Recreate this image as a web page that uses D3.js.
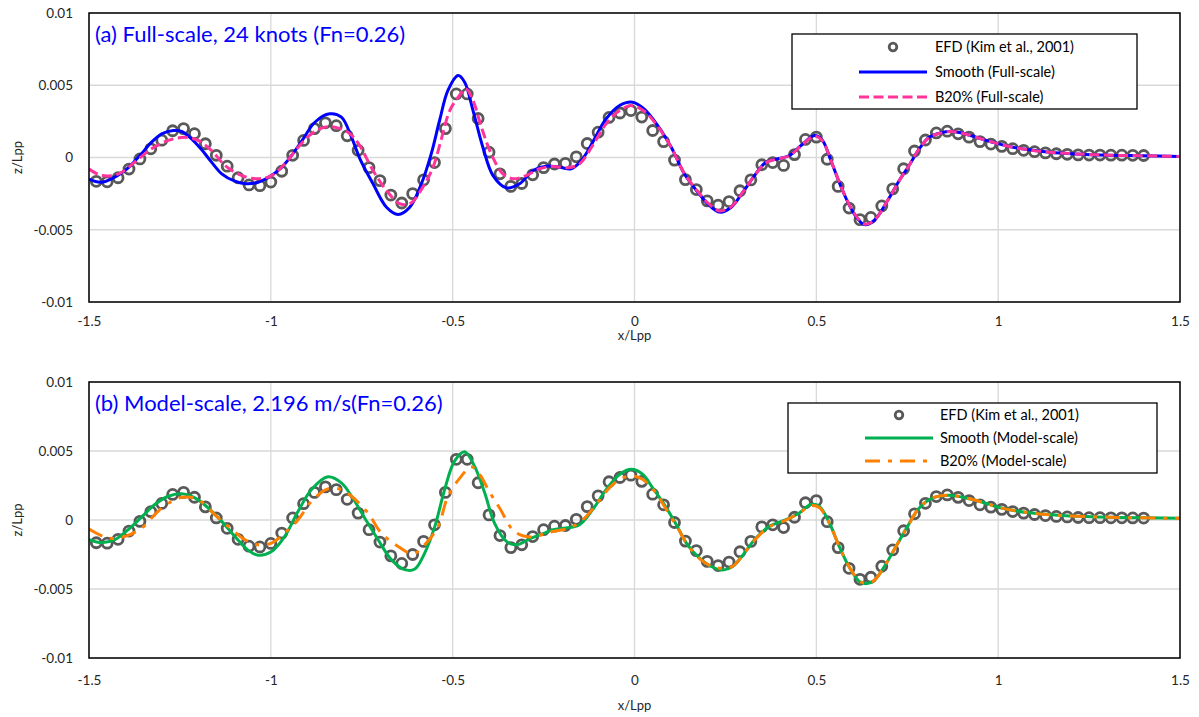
<!DOCTYPE html>
<html>
<head>
<meta charset="utf-8">
<script src="https://cdn.jsdelivr.net/npm/d3@7"></script>
<style>
  html, body { margin: 0; padding: 0; background: #fff; }
  svg { display: block; font-family: Lato, "Open Sans", "Noto Sans", sans-serif; }
</style>
</head>
<body>
<svg id="chart" width="1199" height="717"></svg>
<script>
// ---- axis ticks ----
const xTickValues = [-1.5, -1, -0.5, 0, 0.5, 1, 1.5];
const xTickLabels = ["-1.5", "-1", "-0.5", "0", "0.5", "1", "1.5"];
const yTickValues = [-0.01, -0.005, 0, 0.005, 0.01];
const yTickLabels = ["-0.01", "-0.005", "0", "0.005", "0.01"];

// ---- measured wave cut (Kim et al., 2001), x/Lpp ----
const efdX = [
  -1.48, -1.45, -1.42, -1.39, -1.36, -1.33, -1.30, -1.27, -1.24, -1.21,
  -1.18, -1.15, -1.12, -1.09, -1.06, -1.03, -1.00, -0.97, -0.94, -0.91,
  -0.88, -0.85, -0.82, -0.79, -0.76, -0.73, -0.70, -0.67, -0.64, -0.61,
  -0.58, -0.55, -0.52, -0.49, -0.46, -0.43, -0.40, -0.37, -0.34, -0.31,
  -0.28, -0.25, -0.22, -0.19, -0.16, -0.13, -0.10, -0.07, -0.04, -0.01,
   0.02,  0.05,  0.08,  0.11,  0.14,  0.17,  0.20,  0.23,  0.26,  0.29,
   0.32,  0.35,  0.38,  0.41,  0.44,  0.47,  0.50,  0.53,  0.56,  0.59,
   0.62,  0.65,  0.68,  0.71,  0.74,  0.77,  0.80,  0.83,  0.86,  0.89,
   0.92,  0.95,  0.98,  1.01,  1.04,  1.07,  1.10,  1.13,  1.16,  1.19,
   1.22,  1.25,  1.28,  1.31,  1.34,  1.37,  1.40
];
// z/Lpp
const efdZ = [
  -0.00165, -0.00168, -0.00140, -0.00080, -0.00010, 0.00060, 0.00120, 0.00185, 0.00200, 0.00165,
   0.00095,  0.00015, -0.00060, -0.00140, -0.00190, -0.00195, -0.00170, -0.00095, 0.00015, 0.00118,
   0.00200,  0.00240,  0.00220,  0.00150,  0.00050, -0.00070, -0.00160, -0.00260, -0.00315, -0.00250,
  -0.00155, -0.00035,  0.00200,  0.00440,  0.00440,  0.00270,  0.00037, -0.00113, -0.00200, -0.00180,
  -0.00120, -0.00070, -0.00045, -0.00040,  0.00005,  0.00097,  0.00175,  0.00277,  0.00308,  0.00325,
   0.00280,  0.00187,  0.00110, -0.00018, -0.00153, -0.00222, -0.00300, -0.00330, -0.00305, -0.00230,
  -0.00155, -0.00050, -0.00035, -0.00055,  0.00020,  0.00125,  0.00141, -0.00012, -0.00200, -0.00350,
  -0.00430, -0.00415, -0.00335, -0.00217, -0.00078,  0.00045,  0.00121,  0.00170,  0.00182,  0.00164,
   0.00141,  0.00110,  0.00093,  0.00077,  0.00061,  0.00050,  0.00040,  0.00032,  0.00026,  0.00022,
   0.00018,  0.00017,  0.00017,  0.00016,  0.00016,  0.00015,  0.00014
];

// ---- computed wave cuts, pairs of [x/Lpp, z/Lpp] ----
const smoothFull = [
  [-1.5,-0.00150],[-1.465,-0.00171],[-1.401,-0.00090],[-1.36,0.00014],[-1.328,0.00106],[-1.3,0.00164],
  [-1.268,0.00187],[-1.245,0.00180],[-1.218,0.00129],[-1.19,0.00053],[-1.163,-0.00032],[-1.135,-0.00113],
  [-1.099,-0.00164],[-1.067,-0.00182],[-1.035,-0.00171],[-1.003,-0.00131],[-0.971,-0.00071],[-0.943,0.00014],
  [-0.911,0.00129],[-0.879,0.00244],[-0.838,0.00302],[-0.806,0.00279],[-0.778,0.00140],[-0.755,-0.00009],
  [-0.719,-0.00182],[-0.682,-0.00344],[-0.65,-0.00394],[-0.618,-0.00344],[-0.586,-0.00182],[-0.559,0.00025],
  [-0.536,0.00256],[-0.513,0.00464],[-0.485,0.00567],[-0.467,0.00521],[-0.444,0.00325],[-0.417,0.00071],
  [-0.389,-0.00125],[-0.352,-0.00210],[-0.316,-0.00182],[-0.279,-0.00090],[-0.243,-0.00060],[-0.206,-0.00067],
  [-0.174,-0.00078],[-0.146,-0.00021],[-0.115,0.00106],[-0.078,0.00268],[-0.041,0.00360],[-0.005,0.00383],
  [0.027,0.00335],[0.064,0.00221],[0.101,0.00071],[0.137,-0.00113],[0.174,-0.00240],[0.206,-0.00332],
  [0.234,-0.00378],[0.266,-0.00344],[0.298,-0.00240],[0.33,-0.00125],[0.362,-0.00032],[0.394,-0.00009],
  [0.426,0.00014],[0.458,0.00083],[0.495,0.00152],[0.517,0.00118],[0.54,-0.00021],[0.572,-0.00228],
  [0.604,-0.00390],[0.632,-0.00464],[0.659,-0.00436],[0.696,-0.00298],[0.728,-0.00159],[0.755,-0.00055],
  [0.783,0.00060],[0.81,0.00140],[0.838,0.00168],[0.87,0.00182],[0.902,0.00168],[0.939,0.00140],
  [0.984,0.00106],[1.03,0.00076],[1.085,0.00053],[1.14,0.00037],[1.213,0.00025],[1.305,0.00016],
  [1.396,0.00012],[1.5,0.00007]
];
const b20Full = [
  [-1.5,-0.00080],[-1.465,-0.00125],[-1.42,-0.00115],[-1.374,-0.00032],[-1.328,0.00060],[-1.282,0.00118],
  [-1.236,0.00140],[-1.2,0.00118],[-1.163,0.00048],[-1.126,-0.00055],[-1.08,-0.00125],[-1.035,-0.00147],
  [-0.998,-0.00125],[-0.962,-0.00044],[-0.925,0.00071],[-0.888,0.00164],[-0.852,0.00210],[-0.824,0.00210],
  [-0.788,0.00175],[-0.76,0.00100],[-0.719,-0.00090],[-0.682,-0.00228],[-0.646,-0.00320],[-0.618,-0.00320],
  [-0.582,-0.00205],[-0.554,-0.00067],[-0.531,0.00129],[-0.508,0.00325],[-0.485,0.00417],[-0.464,0.00475],
  [-0.444,0.00394],[-0.421,0.00210],[-0.394,0.00025],[-0.362,-0.00113],[-0.334,-0.00147],[-0.298,-0.00125],
  [-0.261,-0.00078],[-0.224,-0.00062],[-0.183,-0.00071],[-0.151,-0.00044],[-0.115,0.00083],[-0.078,0.00233],
  [-0.041,0.00325],[-0.009,0.00360],[0.027,0.00320],[0.064,0.00215],[0.101,0.00070],[0.137,-0.00110],
  [0.174,-0.00235],[0.206,-0.00325],[0.234,-0.00370],[0.266,-0.00340],[0.298,-0.00240],[0.33,-0.00125],
  [0.362,-0.00035],[0.394,-0.00010],[0.426,0.00012],[0.458,0.00080],[0.495,0.00148],[0.517,0.00115],
  [0.54,-0.00020],[0.572,-0.00225],[0.604,-0.00385],[0.632,-0.00460],[0.659,-0.00435],[0.696,-0.00298],
  [0.728,-0.00160],[0.755,-0.00055],[0.783,0.00060],[0.81,0.00138],[0.838,0.00166],[0.87,0.00180],
  [0.902,0.00168],[0.939,0.00140],[0.984,0.00106],[1.03,0.00076],[1.085,0.00053],[1.14,0.00037],
  [1.213,0.00025],[1.305,0.00016],[1.396,0.00012],[1.5,0.00007]
];
const smoothModel = [
  [-1.5,-0.00143],[-1.465,-0.00165],[-1.429,-0.00143],[-1.392,-0.00070],[-1.355,0.00022],[-1.319,0.00112],
  [-1.282,0.00172],[-1.245,0.00190],[-1.209,0.00160],[-1.172,0.00087],[-1.135,-0.00010],[-1.099,-0.00119],
  [-1.062,-0.00220],[-1.035,-0.00255],[-0.998,-0.00228],[-0.962,-0.00119],[-0.925,0.00063],[-0.888,0.00221],
  [-0.843,0.00313],[-0.806,0.00269],[-0.778,0.00172],[-0.742,0.00015],[-0.705,-0.00143],[-0.668,-0.00289],
  [-0.632,-0.00360],[-0.604,-0.00355],[-0.577,-0.00240],[-0.549,-0.00046],[-0.522,0.00221],[-0.495,0.00427],
  [-0.467,0.00495],[-0.44,0.00390],[-0.412,0.00197],[-0.385,-0.00022],[-0.352,-0.00155],[-0.325,-0.00180],
  [-0.284,-0.00131],[-0.247,-0.00095],[-0.224,-0.00070],[-0.188,-0.00058],[-0.151,-0.00034],[-0.115,0.00075],
  [-0.078,0.00220],[-0.041,0.00330],[-0.009,0.00367],[0.023,0.00330],[0.05,0.00233],[0.082,0.00112],
  [0.115,-0.00034],[0.146,-0.00180],[0.179,-0.00277],[0.211,-0.00337],[0.243,-0.00362],[0.27,-0.00337],
  [0.302,-0.00240],[0.334,-0.00131],[0.371,-0.00046],[0.417,0.00002],[0.453,0.00051],[0.485,0.00112],
  [0.508,0.00100],[0.536,-0.00022],[0.563,-0.00192],[0.595,-0.00362],[0.623,-0.00454],[0.655,-0.00447],
  [0.687,-0.00337],[0.719,-0.00192],[0.751,-0.00046],[0.783,0.00087],[0.82,0.00160],[0.865,0.00180],
  [0.911,0.00160],[0.957,0.00129],[1.003,0.00090],[1.093,0.00050],[1.186,0.00031],[1.323,0.00019],
  [1.5,0.00012]
];
const b20Model = [
  [-1.5,-0.00065],[-1.447,-0.00131],[-1.401,-0.00119],[-1.355,-0.00058],[-1.31,0.00063],[-1.264,0.00148],
  [-1.236,0.00167],[-1.2,0.00148],[-1.154,0.00039],[-1.117,-0.00046],[-1.071,-0.00143],[-1.035,-0.00180],
  [-0.998,-0.00167],[-0.962,-0.00095],[-0.925,0.00002],[-0.888,0.00136],[-0.843,0.00226],[-0.806,0.00220],
  [-0.778,0.00172],[-0.733,0.00051],[-0.696,-0.00095],[-0.65,-0.00192],[-0.609,-0.00245],[-0.577,-0.00180],
  [-0.54,-0.00046],[-0.513,0.00172],[-0.476,0.00318],[-0.449,0.00386],[-0.426,0.00330],[-0.398,0.00200],
  [-0.371,0.00087],[-0.33,-0.00083],[-0.284,-0.00124],[-0.247,-0.00100],[-0.224,-0.00083],[-0.179,-0.00058],
  [-0.142,0.00002],[-0.105,0.00112],[-0.069,0.00233],[-0.032,0.00306],[-0.005,0.00318],[0.023,0.00294],
  [0.055,0.00209],[0.082,0.00100],[0.115,-0.00040],[0.146,-0.00180],[0.179,-0.00280],[0.211,-0.00335],
  [0.243,-0.00350],[0.27,-0.00335],[0.302,-0.00240],[0.334,-0.00135],[0.371,-0.00050],[0.417,0.00000],
  [0.453,0.00050],[0.485,0.00104],[0.508,0.00090],[0.536,-0.00025],[0.563,-0.00192],[0.595,-0.00360],
  [0.623,-0.00450],[0.655,-0.00445],[0.687,-0.00337],[0.719,-0.00192],[0.751,-0.00046],[0.783,0.00087],
  [0.82,0.00160],[0.865,0.00180],[0.911,0.00160],[0.957,0.00129],[1.003,0.00090],[1.093,0.00050],
  [1.186,0.00031],[1.323,0.00019],[1.5,0.00012]
];

// ---- drawing ----
const svg = d3.select("#chart");
svg.append("rect").attr("width", 1199).attr("height", 717).attr("fill", "#fff");

const plotLeft = 89, plotRight = 1180;
const x = d3.scaleLinear().domain([-1.5, 1.5]).range([plotLeft, plotRight]);

function drawPanel(opt) {
  const y = d3.scaleLinear().domain([-0.01, 0.01]).range([opt.bottom, opt.top]);
  const g = svg.append("g");
  const clipId = "clip-" + opt.id;
  g.append("clipPath").attr("id", clipId)
    .append("rect").attr("x", plotLeft).attr("y", opt.top)
    .attr("width", plotRight - plotLeft).attr("height", opt.bottom - opt.top);

  // grid
  g.append("g").selectAll("line").data(xTickValues).join("line")
    .attr("x1", d => x(d)).attr("x2", d => x(d))
    .attr("y1", opt.top).attr("y2", opt.bottom)
    .attr("stroke", "#d9d9d9").attr("stroke-width", 1.3);
  g.append("g").selectAll("line").data(yTickValues).join("line")
    .attr("x1", plotLeft).attr("x2", plotRight)
    .attr("y1", d => y(d)).attr("y2", d => y(d))
    .attr("stroke", "#d9d9d9").attr("stroke-width", 1.3);

  // axes (labels only)
  const xAxis = d3.axisBottom(x).tickValues(xTickValues)
    .tickFormat((d, i) => xTickLabels[i]).tickSize(0).tickPadding(0);
  const gx = g.append("g").attr("transform", `translate(0,${opt.bottom})`).call(xAxis);
  gx.select(".domain").remove();
  gx.selectAll("text").attr("dy", "0.35em").attr("y", opt.xTickOffset)
    .attr("font-size", 13.5).attr("fill", "#262626")
    .attr("font-family", "Lato, 'Open Sans', sans-serif");

  const yAxis = d3.axisLeft(y).tickValues(yTickValues)
    .tickFormat((d, i) => yTickLabels[i]).tickSize(0).tickPadding(0);
  const gy = g.append("g").attr("transform", `translate(${plotLeft - 16},0)`).call(yAxis);
  gy.select(".domain").remove();
  gy.selectAll("text").attr("font-size", 13.5).attr("fill", "#262626")
    .attr("font-family", "Lato, 'Open Sans', sans-serif");

  // axis titles
  g.append("text").attr("x", x(0)).attr("y", opt.bottom + opt.xTitleOffset).attr("dy", "0.35em")
    .attr("text-anchor", "middle").attr("font-size", 13).attr("fill", "#262626")
    .text("x/Lpp");
  g.append("text")
    .attr("transform", `translate(17,${(opt.top + opt.bottom) / 2}) rotate(-90)`)
    .attr("text-anchor", "middle").attr("dominant-baseline", "central")
    .attr("font-size", 13).attr("fill", "#262626")
    .text("z/Lpp");

  // series
  const plot = g.append("g").attr("clip-path", `url(#${clipId})`);
  plot.selectAll("circle").data(efdX.map((d, i) => [d, efdZ[i]])).join("circle")
    .attr("cx", d => x(d[0])).attr("cy", d => y(d[1])).attr("r", 5)
    .attr("fill", "none").attr("stroke", "#595959").attr("stroke-width", 2.8);

  const line = d3.line().x(d => x(d[0])).y(d => y(d[1])).curve(d3.curveCatmullRom.alpha(0.5));
  plot.append("path").datum(opt.smooth).attr("d", line)
    .attr("fill", "none").attr("stroke", opt.smoothColor).attr("stroke-width", 3);
  plot.append("path").datum(opt.b20).attr("d", line)
    .attr("fill", "none").attr("stroke", opt.b20Color).attr("stroke-width", 3)
    .attr("stroke-dasharray", opt.b20Dash);

  // frame
  g.append("rect").attr("x", plotLeft).attr("y", opt.top)
    .attr("width", plotRight - plotLeft).attr("height", opt.bottom - opt.top)
    .attr("fill", "none").attr("stroke", "#000").attr("stroke-width", 1.5);

  // panel title
  g.append("text").attr("x", 95).attr("y", opt.titleY).attr("dy", "0.35em")
    .attr("font-size", 22).attr("fill", "#0000ff").text(opt.title);

  // legend
  const L = opt.legend;
  const lg = g.append("g");
  lg.append("rect").attr("x", L.x0).attr("y", L.y0)
    .attr("width", L.x1 - L.x0).attr("height", L.y1 - L.y0)
    .attr("fill", "#fff").attr("stroke", "#000").attr("stroke-width", 1.3);
  const rows = [
    { kind: "marker", label: "EFD (Kim et al., 2001)" },
    { kind: "line", label: opt.smoothLabel, color: opt.smoothColor, dash: null },
    { kind: "line", label: opt.b20Label, color: opt.b20Color, dash: opt.b20Dash }
  ];
  rows.forEach((r, i) => {
    const cy = L.rowY[i];
    if (r.kind === "marker") {
      lg.append("circle").attr("cx", (L.sx0 + L.sx1) / 2).attr("cy", cy).attr("r", 3.8)
        .attr("fill", "none").attr("stroke", "#595959").attr("stroke-width", 2.8);
    } else {
      lg.append("line").attr("x1", L.sx0).attr("x2", L.sx1).attr("y1", cy).attr("y2", cy)
        .attr("stroke", r.color).attr("stroke-width", 3)
        .attr("stroke-dasharray", r.dash);
    }
    lg.append("text").attr("x", L.tx).attr("y", cy).attr("dy", "0.35em")
      .attr("font-size", 14.5).attr("fill", "#000").text(r.label);
  });
}

drawPanel({
  id: "a", top: 13, bottom: 302, titleY: 34, xTickOffset: 19, xTitleOffset: 33,
  title: "(a) Full-scale, 24 knots (Fn=0.26)",
  smooth: smoothFull, b20: b20Full,
  smoothColor: "#0000ff", b20Color: "#ff3399", b20Dash: "10,4.5",
  smoothLabel: "Smooth (Full-scale)", b20Label: "B20% (Full-scale)",
  legend: { x0: 792, x1: 1137, y0: 34, y1: 109, rowY: [47, 72, 97], sx0: 859, sx1: 927, tx: 935 }
});

drawPanel({
  id: "b", top: 382, bottom: 658, titleY: 403, xTickOffset: 22, xTitleOffset: 47,
  title: "(b) Model-scale, 2.196 m/s(Fn=0.26)",
  smooth: smoothModel, b20: b20Model,
  smoothColor: "#00b050", b20Color: "#ff8000", b20Dash: "15,8,4,8",
  smoothLabel: "Smooth (Model-scale)", b20Label: "B20% (Model-scale)",
  legend: { x0: 788, x1: 1157, y0: 403, y1: 473, rowY: [415, 438, 461], sx0: 865, sx1: 933, tx: 940 }
});
</script>
</body>
</html>
